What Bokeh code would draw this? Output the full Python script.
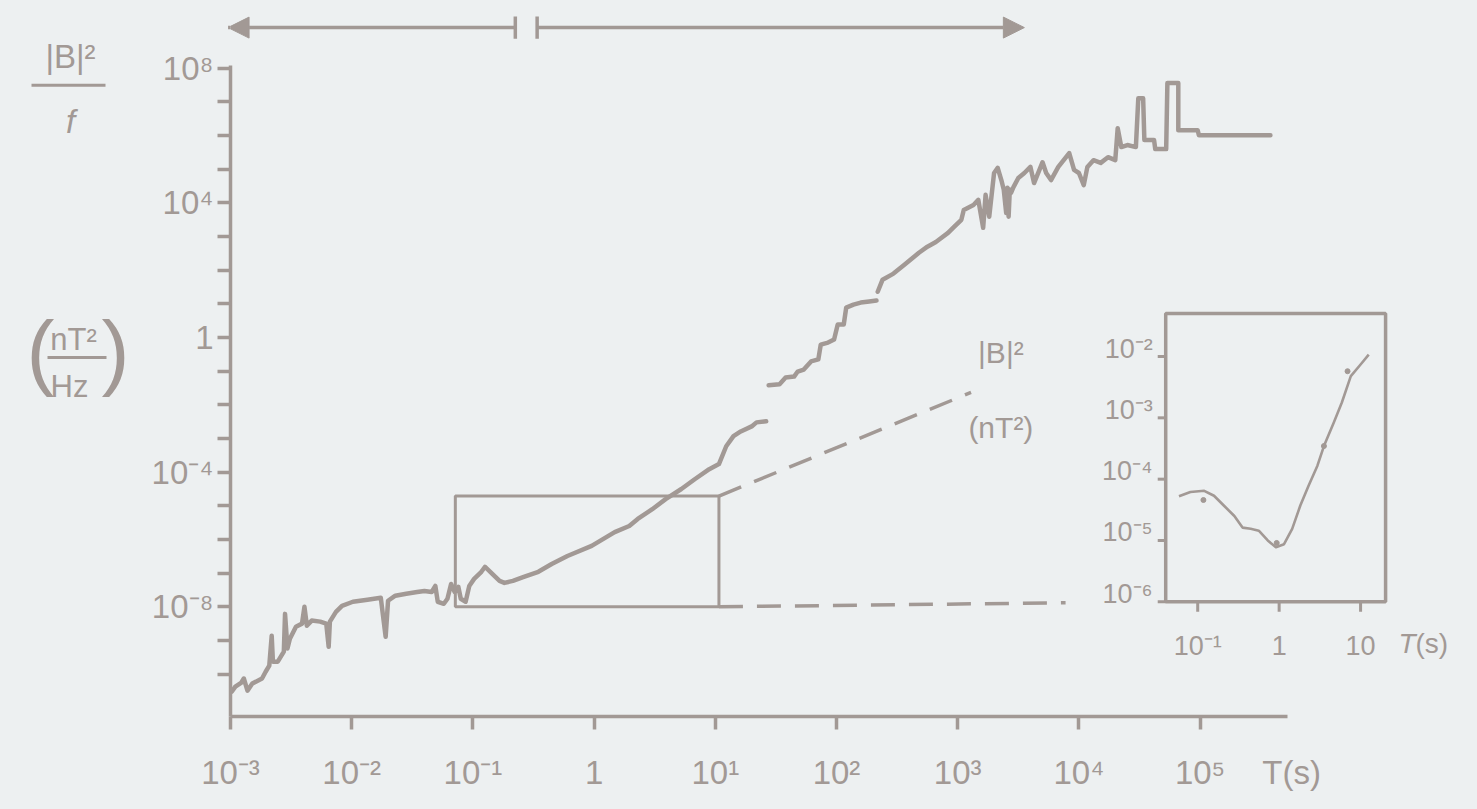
import numpy as np
from bokeh.plotting import figure
from bokeh.models import (Range1d, LogScale, LogAxis, FixedTicker, CustomJSTickFormatter,
                          Label, Arrow, NormalHead)
from bokeh.layouts import row
from bokeh.embed import file_html
from bokeh.resources import INLINE
from bokeh.core.properties import value

# ---------------- data (log10 values) ----------------
# main spectrum |B|^2/f (nT^2/Hz) versus period T (s), three separate pieces
seg1_logT = [-2.99, -2.96, -2.91, -2.89, -2.86, -2.82, -2.74, -2.71, -2.68, -2.66,
             -2.65, -2.61, -2.56, -2.55, -2.53, -2.51, -2.46, -2.41, -2.39, -2.37,
             -2.33, -2.26, -2.21, -2.19, -2.18, -2.13, -2.08, -1.99, -1.87, -1.76,
             -1.72, -1.70, -1.64, -1.55, -1.46, -1.40, -1.34, -1.31, -1.29, -1.24,
             -1.21, -1.18, -1.15, -1.12, -1.10, -1.06, -1.03, -0.99, -0.93, -0.90,
             -0.84, -0.78, -0.74, -0.67, -0.58, -0.46, -0.35, -0.22, -0.02, 0.17,
             0.29, 0.36, 0.48, 0.59, 0.72, 0.83, 0.95, 1.03, 1.09, 1.15,
             1.21, 1.30, 1.34, 1.42]
seg1_logP = [-10.52, -10.37, -10.25, -10.13, -10.49, -10.28, -10.13, -9.93, -9.75, -8.86,
             -9.63, -9.63, -9.33, -8.21, -9.24, -8.95, -8.59, -8.50, -8.00, -8.56,
             -8.41, -8.44, -8.50, -9.19, -8.44, -8.15, -7.97, -7.85, -7.79, -7.73,
             -8.89, -7.82, -7.67, -7.61, -7.56, -7.53, -7.56, -7.38, -7.85, -7.91,
             -7.76, -7.32, -7.56, -7.41, -7.76, -7.85, -7.38, -7.17, -6.96, -6.81,
             -7.02, -7.23, -7.29, -7.23, -7.11, -6.96, -6.73, -6.49, -6.19, -5.78,
             -5.60, -5.39, -5.10, -4.80, -4.50, -4.21, -3.91, -3.76, -3.23, -2.93,
             -2.79, -2.64, -2.52, -2.49]

seg2_logT = [1.44, 1.53, 1.58, 1.65, 1.68, 1.73, 1.79, 1.85, 1.87, 1.93,
             1.98, 2.01, 2.06, 2.08, 2.14, 2.20, 2.27, 2.33]
seg2_logP = [-1.42, -1.39, -1.19, -1.16, -1.01, -0.95, -0.71, -0.65, -0.21, -0.15,
             -0.06, 0.39, 0.39, 0.89, 0.98, 1.04, 1.07, 1.10]

seg3_logT = [2.34, 2.38, 2.47, 2.56, 2.61, 2.68, 2.75, 2.82, 2.92, 2.97,
             3.03, 3.05, 3.13, 3.17, 3.21, 3.23, 3.26, 3.30, 3.33, 3.36,
             3.38, 3.40, 3.41, 3.42, 3.43, 3.44, 3.46, 3.50, 3.55, 3.60,
             3.63, 3.70, 3.73, 3.77, 3.83, 3.92, 3.96, 4.00, 4.04, 4.07,
             4.12, 4.18, 4.24, 4.30, 4.32, 4.35, 4.40, 4.47, 4.49, 4.53,
             4.54, 4.62, 4.63, 4.72, 4.73, 4.82, 4.82, 4.98, 4.99, 5.58]
seg3_logP = [1.36, 1.72, 1.90, 2.16, 2.31, 2.52, 2.70, 2.84, 3.11, 3.29,
             3.50, 3.79, 3.94, 4.09, 3.26, 4.24, 3.59, 4.89, 5.04, 4.68,
             4.39, 3.70, 4.45, 3.59, 4.40, 4.30, 4.47, 4.74, 4.89, 5.07,
             4.59, 5.21, 4.89, 4.68, 5.07, 5.48, 4.98, 4.89, 4.53, 5.07,
             5.27, 5.19, 5.36, 5.27, 6.22, 5.66, 5.72, 5.66, 7.11, 7.11,
             5.87, 5.87, 5.60, 5.60, 7.56, 7.56, 6.16, 6.16, 6.01, 6.01]

# inset: |B|^2 (nT^2) versus T (s)
inset_logT = [-1.23, -1.09, -0.92, -0.80, -0.68, -0.55, -0.45, -0.35, -0.25, -0.14, -0.04,
              0.06, 0.16, 0.26, 0.36, 0.47, 0.55, 0.67, 0.77, 0.88, 1.00, 1.10]
inset_logB = [-4.28, -4.21, -4.19, -4.27, -4.43, -4.60, -4.79, -4.81, -4.84, -5.00, -5.11,
              -5.06, -4.81, -4.43, -4.11, -3.78, -3.46, -3.08, -2.75, -2.32, -2.13, -1.97]
inset_dot_logT = [-0.93, -0.03, 0.55, 0.84]
inset_dot_logB = [-4.34, -5.04, -3.46, -2.24]

# period bands shown by the arrows above the plot (log10 T)
band_logT = [(-3.02, -0.65), (-0.47, 3.55)]
band_logY = 9.21

# zoomed window in the main plot (log10 T, log10 P) and the inset's own extent
zoom_logT = [-1.145, 1.03]
zoom_logP = [-8.0, -4.71]
connector_end_logT = [3.11, 3.89]
connector_end_logP = [-1.63, -7.88]
inset_box_logT = [-1.393, 1.307]
inset_box_logB = [-6.0, -1.30]

# ticks
x_tick_exps = [-3, -2, -1, 0, 1, 2, 3, 4, 5]
x_tick_labels = ["10⁻³", "10⁻²", "10⁻¹", "1", "10¹", "10²", "10³", "10⁴", "10⁵"]
x_title = "T(s)"
y_tick_exps = list(range(-10, 9))
y_label_exps = [8, 4, 0, -4, -8]
y_label_texts = ["10⁸", "10⁴", "1", "10⁻⁴", "10⁻⁸"]
inset_x_ticks = [0.1, 1.0, 10.0]
inset_x_labels = ["10⁻¹", "1", "10"]
inset_y_ticks = [1e-2, 1e-3, 1e-4, 1e-5, 1e-6]
inset_y_labels = ["10⁻²", "10⁻³", "10⁻⁴", "10⁻⁵", "10⁻⁶"]

# ---------------- style ----------------
C = "#a29995"
BG = "#edf0f1"
FONT = "Liberation Sans"

# ---------------- geometry (pixels of the picture) ----------------
W_LEFT, W_MAIN, H = 148, 1313, 793
FL, FR, FT, FB = 229, W_LEFT + W_MAIN, 0, 718      # main frame edges
# scale calibration: (pixel of anchor, log value of anchor, pixels per decade)
MX = (229, -3.0, 121.3)
MY = (338, 0.0, 33.75)
IX = (1197, -1.0, 81.5)
IY = (603, -6.0, 61.5)


def lgx(px, cal):
    return cal[1] + (px - cal[0]) / cal[2]


def lgy(py, cal):
    return cal[1] + (cal[0] - py) / cal[2]


# ---------------- main figure ----------------
p = figure(width=W_MAIN, height=H, x_axis_type="log", y_axis_type="log",
           x_range=Range1d(10 ** lgx(FL, MX), 10 ** lgx(FR, MX)),
           y_range=Range1d(10 ** lgy(FB, MY), 10 ** lgy(FT, MY)),
           min_border_left=FL - W_LEFT, min_border_right=0,
           min_border_top=FT, min_border_bottom=H - FB,
           output_backend="svg", toolbar_location=None)
p.title.visible = False
p.background_fill_color = BG
p.border_fill_color = BG
p.outline_line_color = None
p.xgrid.visible = False
p.ygrid.visible = False

fmt_code = """
const e = Math.log10(tick);
for (let i = 0; i < exps.length; i++) {
  if (Math.abs(exps[i] - e) < 0.01) { return labs[i]; }
}
return "";
"""


def style_axis(ax):
    ax.axis_line_color = C
    ax.axis_line_width = 3.5
    ax.major_tick_line_color = C
    ax.major_tick_line_width = 3.5
    ax.major_tick_out = 13
    ax.major_tick_in = 0
    ax.minor_tick_line_color = None
    ax.major_label_text_color = C
    ax.major_label_text_font = FONT
    ax.major_label_text_font_size = "33px"


# x axis: line and ticks (its labels are carried by the axis below it)
xax = p.xaxis[0]
xax.ticker = FixedTicker(ticks=[10.0 ** e for e in x_tick_exps], minor_ticks=[])
xax.formatter = CustomJSTickFormatter(args=dict(exps=[], labs=[]), code=fmt_code)
xax.bounds = (10.0 ** x_tick_exps[0], 10 ** lgx(1287, MX))
style_axis(xax)
xax.major_label_text_font_size = "1px"
xax.major_label_standoff = 0

# x axis labels (same scale) including the axis title at the right end
x_title_log = lgx(1291, MX)
lab_exps = x_tick_exps + [x_title_log]
lab_texts = x_tick_labels + [x_title]
xlab = LogAxis(ticker=FixedTicker(ticks=[10.0 ** e for e in lab_exps], minor_ticks=[]),
               formatter=CustomJSTickFormatter(args=dict(exps=lab_exps, labs=lab_texts), code=fmt_code))
style_axis(xlab)
xlab.axis_line_color = None
xlab.major_tick_line_color = None
xlab.major_tick_out = 1
xlab.major_label_standoff = 23
p.add_layout(xlab, "below")

yax = p.yaxis[0]
yax.ticker = FixedTicker(ticks=[10.0 ** e for e in y_tick_exps], minor_ticks=[])
yax.formatter = CustomJSTickFormatter(args=dict(exps=y_label_exps, labs=y_label_texts), code=fmt_code)
yax.bounds = (10 ** lgy(FB, MY), 10 ** lgy(65, MY))
style_axis(yax)
yax.major_label_standoff = 4

# main spectrum
for lt, lp in [(seg1_logT, seg1_logP), (seg2_logT, seg2_logP), (seg3_logT, seg3_logP)]:
    p.line(10.0 ** np.array(lt), 10.0 ** np.array(lp), line_color=C, line_width=4.5,
           line_join="round", line_cap="round")

# zoom window and dashed connectors
zT = [10.0 ** v for v in zoom_logT]
zP = [10.0 ** v for v in zoom_logP]
p.quad(left=[zT[0]], right=[zT[1]], bottom=[zP[0]], top=[zP[1]],
       fill_color=None, line_color=C, line_width=3)
p.segment(x0=[zT[1], zT[1]], y0=[zP[1], zP[0]],
          x1=[10.0 ** v for v in connector_end_logT], y1=[10.0 ** v for v in connector_end_logP],
          line_color=C, line_width=3.5, line_dash="24 14")

# period-band arrows above the plot
ay = 10.0 ** band_logY
p.add_layout(Arrow(end=NormalHead(size=21, fill_color=C, line_color=C, line_width=1),
                   x_start=10.0 ** band_logT[0][1], y_start=ay, x_end=10.0 ** band_logT[0][0], y_end=ay,
                   line_color=C, line_width=3.5))
p.add_layout(Arrow(end=NormalHead(size=21, fill_color=C, line_color=C, line_width=1),
                   x_start=10.0 ** band_logT[1][0], y_start=ay, x_end=10.0 ** band_logT[1][1], y_end=ay,
                   line_color=C, line_width=3.5))
p.segment(x0=[10.0 ** band_logT[0][1], 10.0 ** band_logT[1][0]], y0=[10.0 ** (band_logY - 0.33)] * 2,
          x1=[10.0 ** band_logT[0][1], 10.0 ** band_logT[1][0]], y1=[10.0 ** (band_logY + 0.33)] * 2,
          line_color=C, line_width=3.5)

# ---------------- inset (own log scales) ----------------
p.extra_x_ranges = {"ix": Range1d(10 ** lgx(FL, IX), 10 ** lgx(FR, IX))}
p.extra_y_ranges = {"iy": Range1d(10 ** lgy(FB, IY), 10 ** lgy(FT, IY))}
p.extra_x_scales = {"ix": LogScale()}
p.extra_y_scales = {"iy": LogScale()}
IK = dict(x_range_name="ix", y_range_name="iy")

bT = [10.0 ** v for v in inset_box_logT]
bB = [10.0 ** v for v in inset_box_logB]
p.quad(left=[bT[0]], right=[bT[1]], bottom=[bB[0]], top=[bB[1]],
       fill_color=None, line_color=C, line_width=3.5, **IK)
# inset ticks
p.segment(x0=[bT[0]] * len(inset_y_ticks), y0=inset_y_ticks,
          x1=[10 ** (inset_box_logT[0] - 8 / IX[2])] * len(inset_y_ticks), y1=inset_y_ticks,
          line_color=C, line_width=3, **IK)
p.segment(x0=inset_x_ticks, y0=[bB[0]] * 3,
          x1=inset_x_ticks, y1=[10 ** (inset_box_logB[0] - 10 / IY[2])] * 3,
          line_color=C, line_width=3, **IK)
p.text(x=[bT[0]] * len(inset_y_ticks), y=inset_y_ticks, text=inset_y_labels,
       x_offset=-13, y_offset=-8, text_align="right", text_baseline="alphabetic",
       text_font=value(FONT), text_font_size="27px", text_color=C, **IK)
p.text(x=inset_x_ticks, y=[bB[0]] * 3, text=inset_x_labels, y_offset=44,
       text_align="center", text_baseline="alphabetic",
       text_font=value(FONT), text_font_size="27px", text_color=C, **IK)

p.line(10.0 ** np.array(inset_logT), 10.0 ** np.array(inset_logB), line_color=C, line_width=2.6,
       line_join="round", **IK)
p.scatter(10.0 ** np.array(inset_dot_logT), 10.0 ** np.array(inset_dot_logB), size=5,
          color=C, **IK)

p.add_layout(Label(x=10 ** lgx(1000, IX), y=10 ** lgy(370, IY), text="|B|²", text_align="center",
                   text_font=FONT, text_font_size="30px", text_color=C, **IK))
p.add_layout(Label(x=10 ** lgx(1000, IX), y=10 ** lgy(445, IY), text="(nT²)", text_align="center",
                   text_font=FONT, text_font_size="30px", text_color=C, **IK))
p.add_layout(Label(x=10 ** lgx(1415, IX), y=10 ** lgy(660, IY), text="T", text_align="right",
                   text_font=FONT, text_font_size="28px", text_font_style="italic", text_color=C, **IK))
p.add_layout(Label(x=10 ** lgx(1415, IX), y=10 ** lgy(660, IY), text="(s)", text_align="left",
                   text_font=FONT, text_font_size="28px", text_color=C, **IK))

# ---------------- left strip with the y-axis title ----------------
# its frame is aligned with the main frame (rows align frames), so it spans FT..FB
q = figure(width=W_LEFT, height=H, x_range=Range1d(0, W_LEFT), y_range=Range1d(FB, FT),
           min_border_left=0, min_border_right=0, min_border_top=FT, min_border_bottom=H - FB,
           x_axis_location=None, y_axis_location=None,
           output_backend="svg", toolbar_location=None)
q.title.visible = False
q.background_fill_color = BG
q.border_fill_color = BG
q.outline_line_color = None
q.grid.visible = False
TK = dict(text_font=value(FONT), text_color=C, text_align="center")
q.text(x=[70], y=[56], text=["|B|²"], text_font_size="33px", text_baseline="alphabetic", **TK)
q.text(x=[70], y=[121], text=["f"], text_font_size="33px", text_font_style="italic",
       text_baseline="alphabetic", **TK)
q.segment(x0=[31, 47], y0=[85, 358], x1=[105, 106], y1=[85, 358], line_color=C, line_width=3)
q.text(x=[73], y=[340], text=["nT²"], text_font_size="31px", text_baseline="alphabetic", **TK)
q.text(x=[69], y=[387], text=["Hz"], text_font_size="31px", text_baseline="alphabetic", **TK)
q.text(x=[40, 115], y=[351, 351], text=["(", ")"], text_font_size="84px", text_baseline="middle", **TK)

layout = row(q, p, spacing=0)
html = file_html(layout, INLINE)
html = html.replace("</head>", "<style>html, body { background-color: %s; }</style>\n</head>" % BG, 1)
open("out.html", "w").write(html)
